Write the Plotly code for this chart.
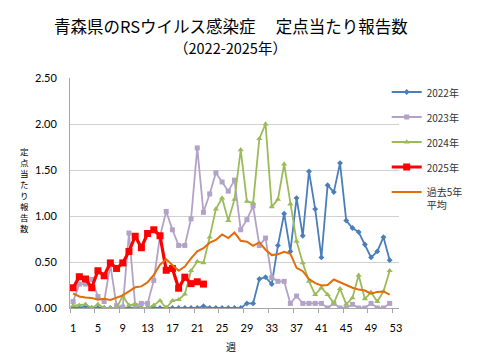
import plotly.graph_objects as go

# ---------------- data ----------------
weeks52 = list(range(1, 53))
weeks_2025 = list(range(1, 23))

y2022 = [0.01, 0.0, 0.02, 0.0, 0.0, 0.0, 0.0, 0.0, 0.0, 0.0,
         0.0, 0.0, 0.0, 0.0, 0.0, 0.0, 0.0, 0.0, 0.0, 0.0,
         0.0, 0.02, 0.0, 0.0, 0.0, 0.0, 0.0, 0.0, 0.05, 0.05,
         0.315, 0.335, 0.26, 0.68, 1.025, 0.615, 1.195, 0.785, 1.485, 1.075,
         0.55, 1.335, 1.26, 1.575, 0.95, 0.87, 0.825, 0.69, 0.55, 0.615,
         0.77, 0.52]

y2023 = [0.07, 0.26, 0.26, 0.31, 0.125, 0.07, 0.47, 0.025, 0.01, 0.815,
         0.03, 0.05, 0.05, 0.30, 0.78, 1.05, 0.85, 0.68, 0.68, 0.97,
         1.74, 1.04, 1.24, 1.47, 1.37, 1.27, 1.39, 0.85, 0.96, 1.11,
         0.68, 0.76, 0.33, 0.29, 0.29, 0.05, 0.13, 0.05, 0.05, 0.05,
         0.05, 0.0, 0.05, 0.0, 0.0, 0.04, 0.0, 0.0, 0.05, 0.0,
         0.0, 0.05]

y2024 = [0.025, 0.03, 0.04, 0.0, 0.04, 0.0, 0.0, 0.0, 0.13, 0.03,
         0.04, 0.0, 0.0, 0.03, 0.08, 0.0, 0.08, 0.09, 0.15, 0.405,
         0.505, 0.49, 0.77, 1.075, 1.195, 0.95, 1.18, 1.72, 1.16, 1.14,
         1.84, 2.00, 1.10, 1.18, 1.565, 1.13, 0.725, 0.49, 0.29, 0.145,
         0.22, 0.145, 0.054, 0.21, 0.04, 0.11, 0.355, 0.10, 0.17, 0.07,
         0.18, 0.405]

y2025 = [0.22, 0.34, 0.315, 0.22, 0.405, 0.35, 0.49, 0.43, 0.49, 0.615,
         0.78, 0.655, 0.81, 0.85, 0.785, 0.41, 0.43, 0.215, 0.335, 0.265,
         0.285, 0.26]

avg5 = [0.16, 0.125, 0.115, 0.11, 0.09, 0.10, 0.087, 0.11, 0.137, 0.18,
        0.225, 0.235, 0.28, 0.36, 0.47, 0.53, 0.47, 0.405, 0.45, 0.54,
        0.615, 0.65, 0.71, 0.74, 0.80, 0.76, 0.82, 0.73, 0.72, 0.675,
        0.715, 0.633, 0.575, 0.585, 0.612, 0.588, 0.437, 0.40, 0.315, 0.27,
        0.245, 0.25, 0.31, 0.28, 0.245, 0.22, 0.20, 0.19, 0.155, 0.175,
        0.18, 0.145]

x_tickvals = [1, 5, 9, 13, 17, 21, 25, 29, 33, 37, 41, 45, 49, 53]
y_tickvals = [0.0, 0.5, 1.0, 1.5, 2.0, 2.5]

names = ["2022年", "2023年", "2024年", "2025年", "過去5年<br>平均"]
title_line1 = "青森県のRSウイルス感染症\u3000\u00a0定点当たり報告数"
title_line2 = "（2022-2025年）"
x_title = "週"
y_title = "定点当たり報告数"

# ---------------- layout constants ----------------
W, H = 480, 360
ML, MR, MT, MB = 70, 62, 78, 52
PW, PH = W - ML - MR, H - MT - MB

JP = "Noto Sans CJK JP"
NUM = "Lato, Noto Sans CJK JP"


def px_x(px):
    return (px - ML) / PW


def px_y(py):
    return (H - MB - py) / PH


fig = go.Figure()

fig.add_trace(go.Scatter(
    x=weeks52, y=y2022, name=names[0], mode="lines+markers",
    line=dict(color="#4A7EBB", width=1.8),
    marker=dict(symbol="diamond", size=4.5, color="#4A7EBB"),
    legendgroup="a"))
fig.add_trace(go.Scatter(
    x=weeks52, y=y2023, name=names[1], mode="lines+markers",
    line=dict(color="#B3A2C7", width=1.8),
    marker=dict(symbol="square", size=5, color="#B3A2C7"),
    legendgroup="b"))
fig.add_trace(go.Scatter(
    x=weeks52, y=y2024, name=names[2], mode="lines+markers",
    line=dict(color="#9BBB59", width=1.8),
    marker=dict(symbol="triangle-up", size=5.5, color="#9BBB59"),
    legendgroup="c"))
fig.add_trace(go.Scatter(
    x=weeks_2025, y=y2025, name=names[3], mode="lines+markers",
    line=dict(color="#FF0000", width=3.2),
    marker=dict(symbol="square", size=7, color="#FF0000"),
    legendgroup="d"))
fig.add_trace(go.Scatter(
    x=weeks52, y=avg5, name=names[4], mode="lines",
    line=dict(color="#E46C0A", width=2),
    legendgroup="e"))

annotations = [
    dict(text=title_line1, xref="paper", yref="paper",
         x=px_x(240), y=px_y(26), showarrow=False,
         font=dict(family=JP, size=16.5, color="#000000"),
         xanchor="center", yanchor="middle"),
    dict(text=title_line2, xref="paper", yref="paper",
         x=px_x(240), y=px_y(47.5), showarrow=False,
         font=dict(family=JP, size=14.5, color="#000000"),
         xanchor="center", yanchor="middle"),
    dict(text=x_title, xref="paper", yref="paper",
         x=px_x(240), y=px_y(346), showarrow=False,
         font=dict(family=JP, size=10, color="#000000"),
         xanchor="center", yanchor="middle"),
    dict(text="<br>".join(list(y_title)), xref="paper", yref="paper",
         x=px_x(22), y=px_y(189), showarrow=False,
         font=dict(family=JP, size=8.5, color="#000000"),
         xanchor="center", yanchor="middle", align="center"),
]

fig.update_layout(
    width=W, height=H,
    margin=dict(l=ML, r=MR, t=MT, b=MB),
    paper_bgcolor="white", plot_bgcolor="white",
    annotations=annotations,
    legend=dict(
        x=px_x(405), y=px_y(79),
        xanchor="left", yanchor="top",
        bgcolor="rgba(0,0,0,0)",
        font=dict(family=JP, size=10, color="#333333"),
        tracegroupgap=6, valign="top", itemwidth=30,
    ),
    xaxis=dict(
        range=[0.5, 53.5], tickmode="array", tickvals=x_tickvals,
        ticks="", showgrid=False, zeroline=False,
        showline=True, linecolor="#A6A6A6", linewidth=1,
        tickfont=dict(family=NUM, size=11, color="#000000"),
        ticklabelstandoff=10,
        minor=dict(ticks="outside", tick0=0.5, dtick=4, ticklen=4,
                   tickcolor="#A6A6A6", showgrid=False),
    ),
    yaxis=dict(
        range=[0, 2.5], tickmode="array", tickvals=y_tickvals,
        tickformat=".2f", showgrid=True, gridcolor="#D0D0D0", gridwidth=1,
        zeroline=False, showline=True, linecolor="#A6A6A6", linewidth=1,
        ticks="", tickfont=dict(family=NUM, size=11, color="#000000"),
        ticklabelstandoff=10,
    ),
)

fig.write_html(
    "out.html",
    config={"displayModeBar": False},
    post_script="document.body.style.margin='0px';document.body.style.overflow='hidden';",
)
